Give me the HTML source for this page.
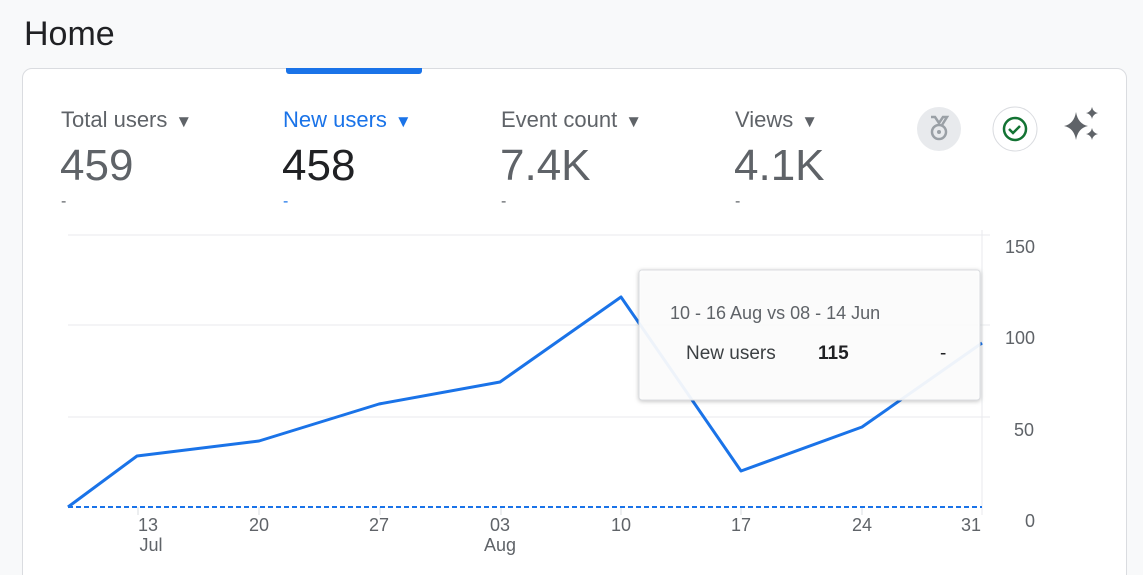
<!DOCTYPE html>
<html style="overflow:hidden;height:575px"><head><meta charset="utf-8"><style>
body{margin:0;width:1143px;height:575px;background:#f8f9fa;font-family:"Liberation Sans",sans-serif;overflow:hidden;position:relative}
.a{position:absolute;white-space:nowrap}
.t{font-size:17px;margin-left:8px}
</style></head><body>
<div class="a" style="left:24px;top:15px;font-size:34px;color:#202124">Home</div>
<div class="a" style="left:22px;top:68px;width:1103px;height:520px;background:#fff;border:1px solid #dadce0;border-radius:10px"></div>
<div class="a" style="left:286px;top:68px;width:136px;height:6px;background:#1a73e8;border-radius:0 0 3px 3px"></div>

<div class="a" style="left:61px;top:107px;font-size:22px;color:#5f6368">Total users<span class="t">▼</span></div>
<div class="a" style="left:60px;top:141px;font-size:44px;color:#5f6368">459</div>
<div class="a" style="left:61px;top:193px;font-size:16px;color:#5f6368">-</div>

<div class="a" style="left:283px;top:107px;font-size:22px;color:#1a73e8">New users<span class="t">▼</span></div>
<div class="a" style="left:282px;top:141px;font-size:44px;color:#202124">458</div>
<div class="a" style="left:283px;top:193px;font-size:16px;color:#1a73e8">-</div>

<div class="a" style="left:501px;top:107px;font-size:22px;color:#5f6368">Event count<span class="t">▼</span></div>
<div class="a" style="left:500px;top:141px;font-size:44px;color:#5f6368">7.4K</div>
<div class="a" style="left:501px;top:193px;font-size:16px;color:#5f6368">-</div>

<div class="a" style="left:735px;top:107px;font-size:22px;color:#5f6368">Views<span class="t">▼</span></div>
<div class="a" style="left:734px;top:141px;font-size:44px;color:#5f6368">4.1K</div>
<div class="a" style="left:735px;top:193px;font-size:16px;color:#5f6368">-</div>

<svg class="a" style="left:0;top:0" width="1143" height="575">
<circle cx="939" cy="129" r="22" fill="#e8eaed"/>
<path d="M931 117 l4 0 l4 6 l4 -6 l4 0 l-5 8" fill="none" stroke="#9aa0a6" stroke-width="2.5"/>
<circle cx="939" cy="132" r="7" fill="none" stroke="#9aa0a6" stroke-width="2.5"/>
<circle cx="939" cy="132" r="2" fill="#9aa0a6"/>
<circle cx="1015" cy="129" r="22" fill="#fff" stroke="#dadce0"/>
<circle cx="1015" cy="129" r="11" fill="none" stroke="#137333" stroke-width="2.5"/>
<path d="M1009 129 l4 4 l7 -7" fill="none" stroke="#137333" stroke-width="2.5"/>
<path d="M1076 112 Q1078 124 1088 126 Q1078 128 1076 140 Q1074 128 1064 126 Q1074 124 1076 112Z" fill="#5f6368"/>
<path d="M1092 107 Q1093 112 1098 113 Q1093 114 1092 119 Q1091 114 1086 113 Q1091 112 1092 107Z" fill="#5f6368"/>
<path d="M1092 128 Q1093 133 1098 134 Q1093 135 1092 140 Q1091 135 1086 134 Q1091 133 1092 128Z" fill="#5f6368"/>

<g stroke="#e8eaed" stroke-width="1">
<line x1="68" y1="235" x2="990" y2="235"/>
<line x1="68" y1="325" x2="990" y2="325"/>
<line x1="68" y1="417" x2="990" y2="417"/>
<line x1="982" y1="230" x2="982" y2="515"/>
</g>
<g stroke="#dadce0"><line x1="138" y1="507" x2="138" y2="515"/><line x1="259" y1="507" x2="259" y2="515"/><line x1="380" y1="507" x2="380" y2="515"/><line x1="501" y1="507" x2="501" y2="515"/><line x1="621" y1="507" x2="621" y2="515"/><line x1="741" y1="507" x2="741" y2="515"/><line x1="862" y1="507" x2="862" y2="515"/></g>
<line x1="68" y1="507" x2="982" y2="507" stroke="#1a73e8" stroke-width="2" stroke-dasharray="5,3"/>
<polyline points="68,507 137,456 259,441 379,404 500,382 621,297 741,471 862,427 982,343" fill="none" stroke="#1a73e8" stroke-width="3" stroke-linejoin="round"/>
<g font-size="18" fill="#5f6368" text-anchor="middle">
<text x="148" y="531">13</text><text x="151" y="551">Jul</text>
<text x="259" y="531">20</text><text x="379" y="531">27</text>
<text x="500" y="531">03</text><text x="500" y="551">Aug</text>
<text x="621" y="531">10</text><text x="741" y="531">17</text><text x="862" y="531">24</text><text x="971" y="531">31</text>
</g>
<g font-size="18" fill="#5f6368">
<text x="1005" y="253">150</text><text x="1005" y="344">100</text><text x="1014" y="436">50</text><text x="1025" y="527">0</text>
</g>
<rect x="639" y="270" width="341" height="130" rx="3" fill="#fff" fill-opacity="0.93" stroke="#dadce0" style="filter:drop-shadow(0 1px 2px rgba(0,0,0,.25))"/>
<text x="670" y="319" font-size="18" fill="#5f6368">10 - 16 Aug vs 08 - 14 Jun</text>
<text x="686" y="359" font-size="19" fill="#3c4043">New users</text>
<text x="818" y="359" font-size="19" font-weight="bold" fill="#202124">115</text>
<text x="940" y="359" font-size="19" fill="#202124">-</text>
</svg>
</body></html>
